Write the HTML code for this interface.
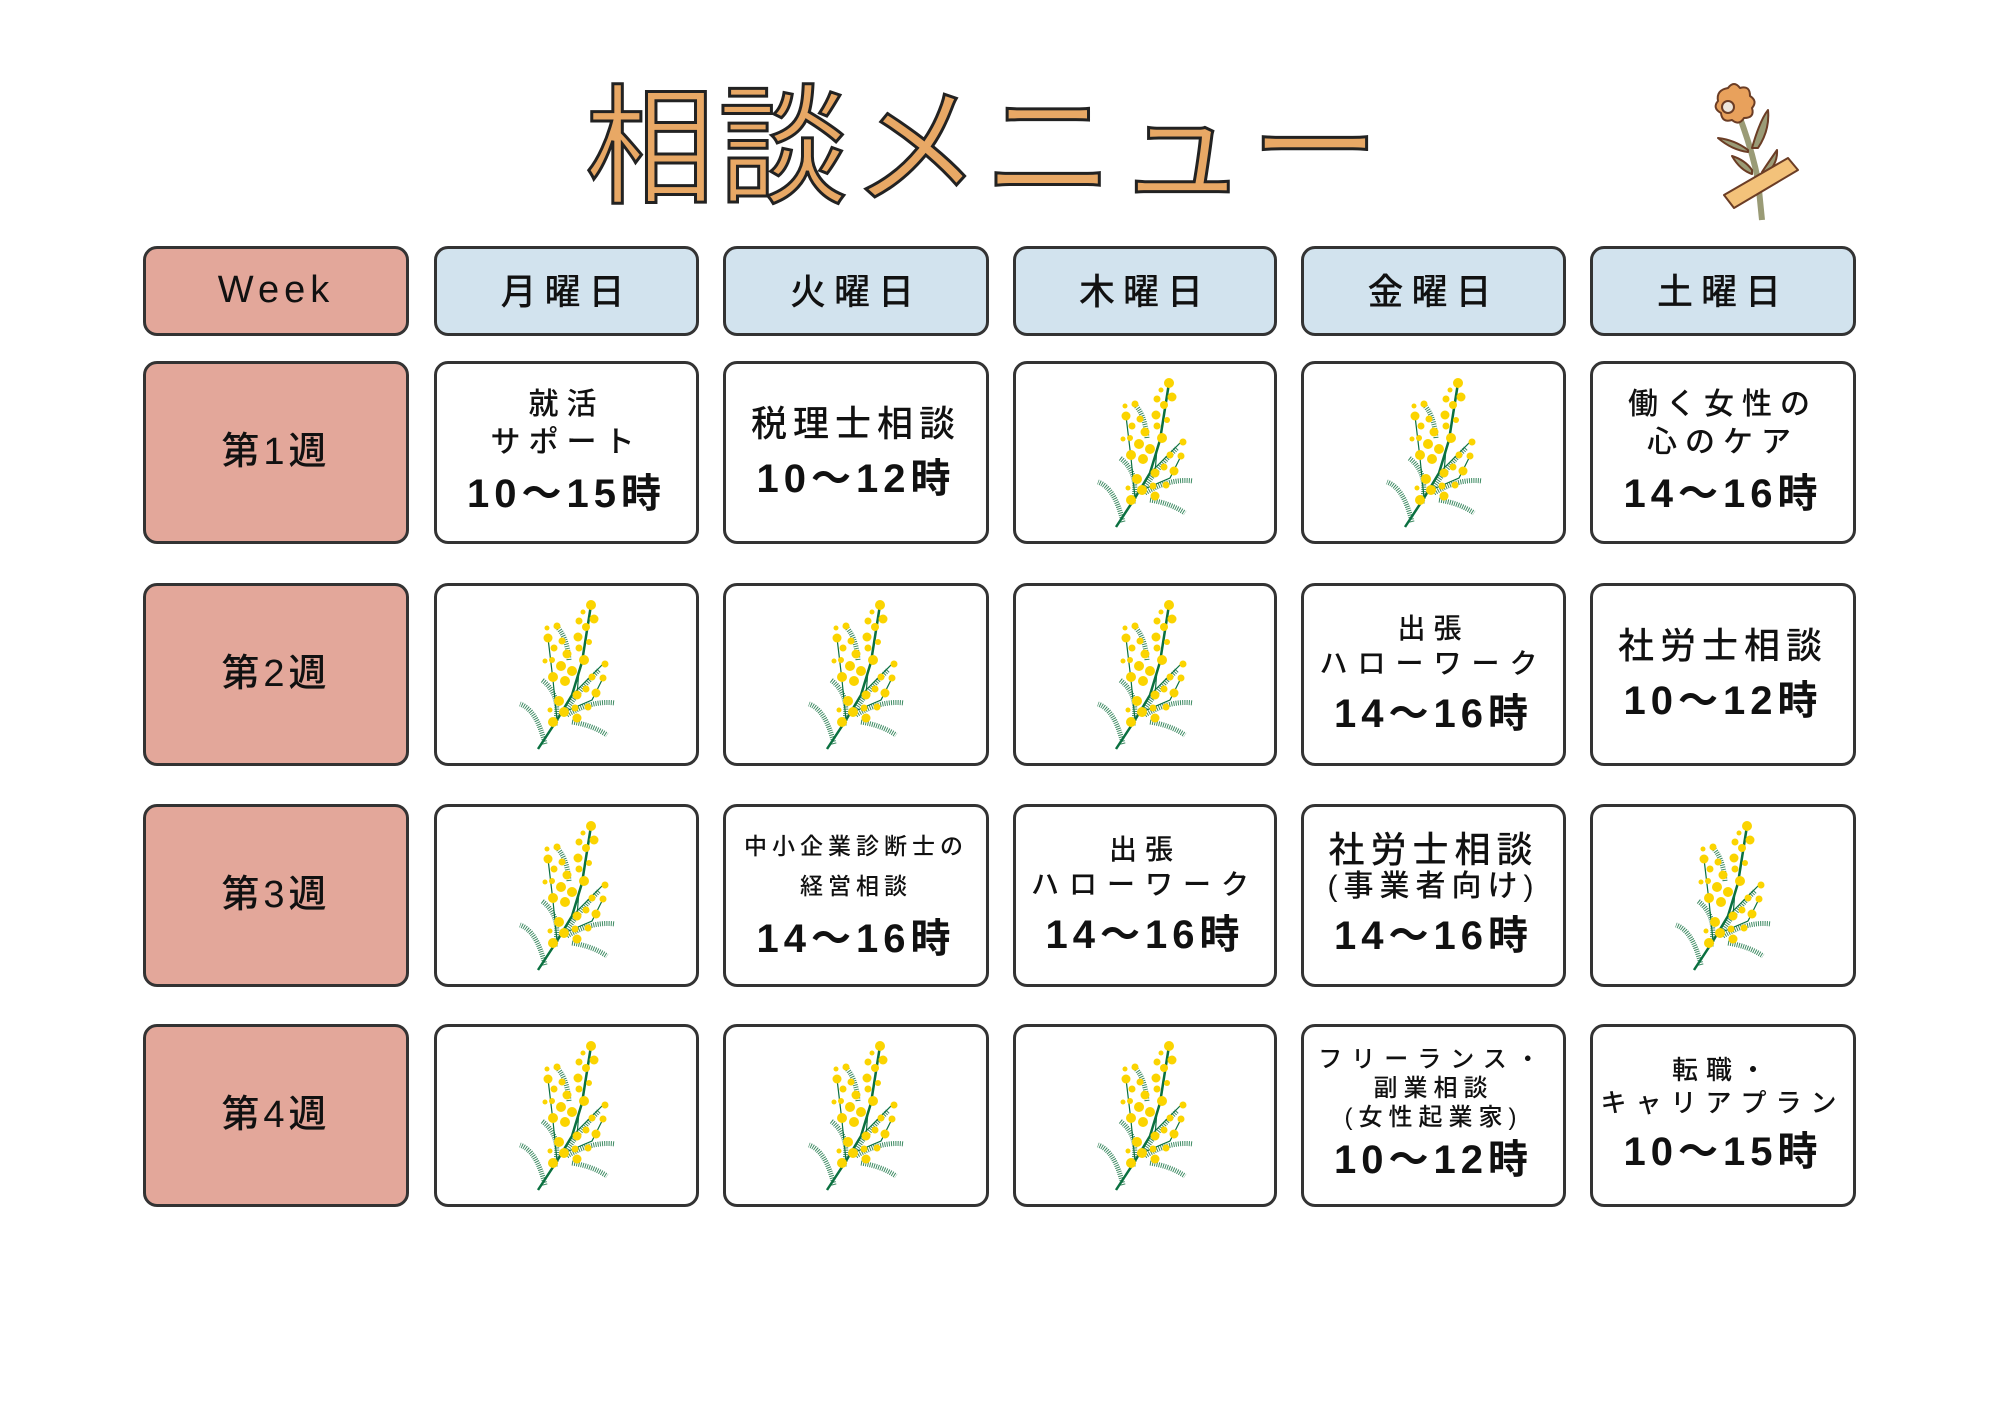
<!DOCTYPE html>
<html><head><meta charset="utf-8">
<style>
*{margin:0;padding:0;box-sizing:border-box}
body{width:2000px;height:1414px;background:#fff;position:relative;overflow:hidden;font-family:"Liberation Sans","Noto Sans CJK JP",sans-serif;color:#111}
.c{position:absolute;border:3.5px solid #333;border-radius:14px;background:#fff;display:flex;flex-direction:column;align-items:center;justify-content:center;text-align:center;line-height:1.25;font-weight:500}
.h{background:#d2e3ee;font-size:36px;letter-spacing:8px;height:90px;top:246px}
.w{background:#e3a79a}
.wk{font-size:38px;letter-spacing:4px}
.t{font-size:40px;letter-spacing:5px;margin-top:8px;font-weight:600}
.s{font-size:30px;letter-spacing:8px}
.m{width:100px;height:150px}
.title{position:absolute;left:585px;top:72px;font-size:130px;color:#e8a865;-webkit-text-stroke:3px #222;letter-spacing:3px;font-family:"Noto Sans CJK JP",sans-serif;font-weight:400;line-height:1;white-space:nowrap}
</style></head><body>
<svg width="0" height="0" style="position:absolute">
<defs>
<symbol id="mim" viewBox="0 0 100 150">
<g fill="none" stroke="#3d8a62" stroke-width="1" stroke-dasharray="1 1.2">
<path d="M28 144 Q20 110 3 104" stroke-width="5"/>
<path d="M38 125 Q45 95 25 80" stroke-width="5"/>
<path d="M48 112 Q62 90 82 70" stroke-width="5"/>
<path d="M50 115 Q75 100 98 103" stroke-width="5"/>
<path d="M55 122 Q75 125 90 135" stroke-width="5"/>
<path d="M52 60 Q50 35 38 25" stroke-width="5"/>
</g>
<g stroke="#0a7040" fill="none">
<path d="M21 149 L40 120 L55 95 L65 62 L74 5" stroke-width="2.5"/>
<path d="M40 120 L36 80 L31 38" stroke-width="1.2"/>
<path d="M55 95 L86 64" stroke-width="1.2"/>
<path d="M47 112 L75 100 L86 78" stroke-width="1.2"/>
<path d="M62 70 L60 95" stroke-width="1.2"/>
</g>
<g fill="#fbd400">
<circle cx="74" cy="5" r="5"/><circle cx="77" cy="19" r="4.5"/><circle cx="69" cy="27" r="4"/><circle cx="62" cy="21" r="3.5"/><circle cx="40" cy="26" r="3.5"/><circle cx="31" cy="38" r="4.5"/><circle cx="45" cy="41" r="3.5"/><circle cx="61" cy="37" r="4.5"/><circle cx="37" cy="48" r="3.5"/><circle cx="50" cy="54" r="4.5"/><circle cx="67" cy="60" r="5"/><circle cx="62" cy="48" r="3.5"/><circle cx="72" cy="42" r="3"/><circle cx="44" cy="66" r="5"/><circle cx="55" cy="71" r="5"/><circle cx="36" cy="77" r="5"/><circle cx="48" cy="81" r="5"/><circle cx="35" cy="60" r="3"/><circle cx="88" cy="64" r="3.5"/><circle cx="75" cy="77" r="3.5"/><circle cx="86" cy="78" r="3.5"/><circle cx="79" cy="93" r="4.5"/><circle cx="69" cy="89" r="3.5"/><circle cx="60" cy="95" r="4.5"/><circle cx="42" cy="101" r="5"/><circle cx="58" cy="108" r="3.5"/><circle cx="71" cy="107" r="3.5"/><circle cx="47" cy="112" r="5"/><circle cx="36" cy="122" r="5"/><circle cx="60" cy="118" r="4.5"/><circle cx="33" cy="110" r="2.5"/><circle cx="28" cy="61" r="2.5"/><circle cx="40" cy="99" r="2.5"/><circle cx="66" cy="12" r="2.5"/><circle cx="30" cy="28" r="2.5"/>
</g>
</symbol>
</defs>
</svg>

<div class="title">相談メニュー</div>

<svg style="position:absolute;left:1690px;top:70px" width="130" height="160" viewBox="0 0 130 160">
<g stroke="#6b3d25" stroke-width="2" stroke-linejoin="round">
<path d="M50 48 Q62 80 68 110 L72 150" fill="none" stroke="#9a9b76" stroke-width="6"/>
<path d="M62 78 Q70 50 78 40 Q80 60 68 78 Z" fill="#9a9b76"/>
<path d="M58 80 Q45 70 28 68 Q42 80 58 82 Z" fill="#9a9b76"/>
<path d="M62 100 Q55 90 42 86 Q50 100 62 104 Z" fill="#9a9b76"/>
<path d="M72 102 Q80 90 87 80 Q88 95 74 106 Z" fill="#9a9b76"/>
<path d="M38 18 q6-8 12 0 q10-3 10 8 q8 5 2 12 q3 10-8 10 q-5 8-12 2 q-10 3-11-7 q-9-5-3-12 q-2-11 10-13Z" fill="#e8a15c"/>
<circle cx="38" cy="37" r="6" fill="#ede6dc"/>
<path d="M34 125 L98 88 L108 100 L44 138 Z" fill="#f3c27a"/>
</g>
</svg>

<div class="c h w" style="left:143px;width:266px;letter-spacing:5px;font-size:38px">Week</div>
<div class="c h" style="left:434px;width:265px">月曜日</div>
<div class="c h" style="left:723px;width:266px">火曜日</div>
<div class="c h" style="left:1013px;width:264px">木曜日</div>
<div class="c h" style="left:1301px;width:265px">金曜日</div>
<div class="c h" style="left:1590px;width:266px">土曜日</div>

<div class="c w wk" style="left:143px;top:361px;width:266px;height:183px">第1週</div>
<div class="c" style="left:434px;top:361px;width:265px;height:183px"><div class="s">就活</div><div class="s">サポート</div><div class="t">10～15時</div></div>
<div class="c" style="left:723px;top:361px;width:266px;height:183px"><div class="s" style="font-size:36px;letter-spacing:6px">税理士相談</div><div class="t">10～12時</div></div>
<div class="c" style="left:1013px;top:361px;width:264px;height:183px"><svg class="m"><use href="#mim"/></svg></div>
<div class="c" style="left:1301px;top:361px;width:265px;height:183px"><svg class="m"><use href="#mim"/></svg></div>
<div class="c" style="left:1590px;top:361px;width:266px;height:183px"><div class="s">働く女性の</div><div class="s">心のケア</div><div class="t">14～16時</div></div>

<div class="c w wk" style="left:143px;top:583px;width:266px;height:183px">第2週</div>
<div class="c" style="left:434px;top:583px;width:265px;height:183px"><svg class="m"><use href="#mim"/></svg></div>
<div class="c" style="left:723px;top:583px;width:266px;height:183px"><svg class="m"><use href="#mim"/></svg></div>
<div class="c" style="left:1013px;top:583px;width:264px;height:183px"><svg class="m"><use href="#mim"/></svg></div>
<div class="c" style="left:1301px;top:583px;width:265px;height:183px"><div class="s" style="font-size:28px">出張</div><div class="s" style="font-size:28px;letter-spacing:10px">ハローワーク</div><div class="t">14～16時</div></div>
<div class="c" style="left:1590px;top:583px;width:266px;height:183px"><div class="s" style="font-size:36px;letter-spacing:6px">社労士相談</div><div class="t">10～12時</div></div>

<div class="c w wk" style="left:143px;top:804px;width:266px;height:183px">第3週</div>
<div class="c" style="left:434px;top:804px;width:265px;height:183px"><svg class="m"><use href="#mim"/></svg></div>
<div class="c" style="left:723px;top:804px;width:266px;height:183px"><div class="s" style="font-size:23px;letter-spacing:5px;line-height:1.7">中小企業診断士の</div><div class="s" style="font-size:23px;letter-spacing:5px;line-height:1.7">経営相談</div><div class="t">14～16時</div></div>
<div class="c" style="left:1013px;top:804px;width:264px;height:183px"><div class="s" style="font-size:28px">出張</div><div class="s" style="font-size:28px;letter-spacing:10px">ハローワーク</div><div class="t">14～16時</div></div>
<div class="c" style="left:1301px;top:804px;width:265px;height:183px"><div class="s" style="font-size:36px;letter-spacing:6px;line-height:1.1">社労士相談</div><div class="s" style="font-size:30px;letter-spacing:6px;line-height:1.1">(事業者向け)</div><div class="t">14～16時</div></div>
<div class="c" style="left:1590px;top:804px;width:266px;height:183px"><svg class="m"><use href="#mim"/></svg></div>

<div class="c w wk" style="left:143px;top:1024px;width:266px;height:183px">第4週</div>
<div class="c" style="left:434px;top:1024px;width:265px;height:183px"><svg class="m"><use href="#mim"/></svg></div>
<div class="c" style="left:723px;top:1024px;width:266px;height:183px"><svg class="m"><use href="#mim"/></svg></div>
<div class="c" style="left:1013px;top:1024px;width:264px;height:183px"><svg class="m"><use href="#mim"/></svg></div>
<div class="c" style="left:1301px;top:1024px;width:265px;height:183px"><div class="s" style="font-size:24px;letter-spacing:9px;line-height:1.2">フリーランス・</div><div class="s" style="font-size:24px;letter-spacing:6px;line-height:1.2">副業相談</div><div class="s" style="font-size:24px;letter-spacing:6px;line-height:1.2">(女性起業家)</div><div class="t" style="margin-top:2px">10～12時</div></div>
<div class="c" style="left:1590px;top:1024px;width:266px;height:183px"><div class="s" style="font-size:26px;letter-spacing:8px">転職・</div><div class="s" style="font-size:26px;letter-spacing:9px">キャリアプラン</div><div class="t">10～15時</div></div>
</body></html>
